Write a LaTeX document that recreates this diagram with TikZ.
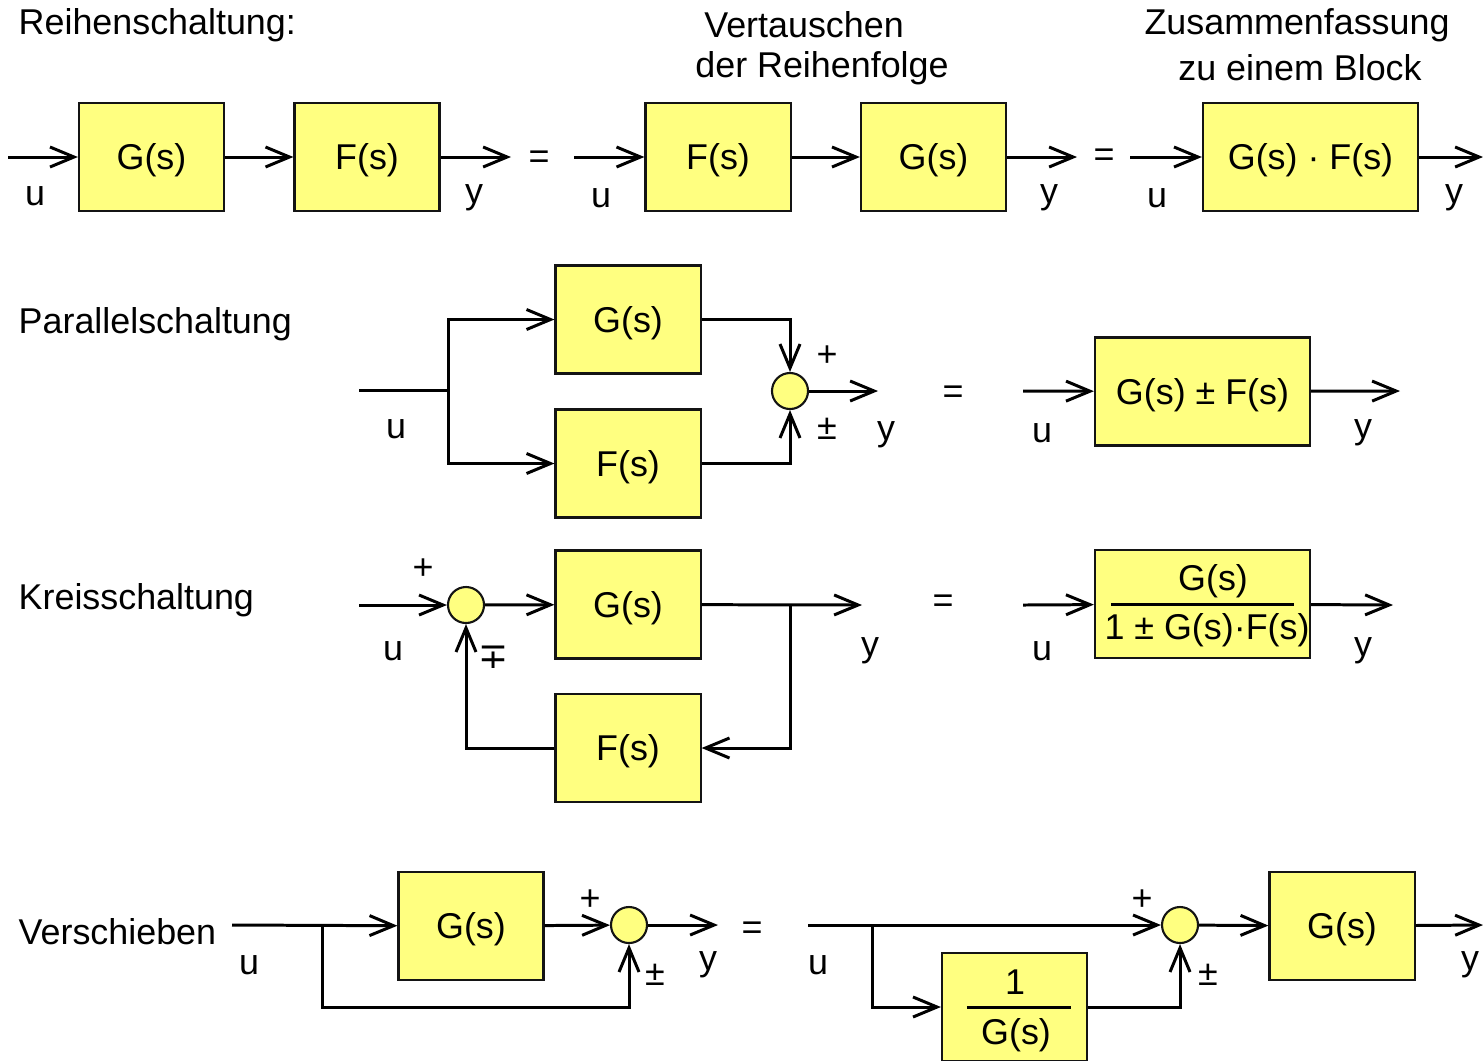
\documentclass[tikz,border=0pt]{standalone}
\usepackage{fontspec}
\setmainfont{Liberation Sans}
\newfontfamily\symfont{DejaVu Sans}
\usetikzlibrary{arrows.meta,positioning,calc}
\definecolor{boxyellow}{RGB}{255,255,128}
\definecolor{edgeink}{RGB}{20,20,20}

\begin{document}
\begin{tikzpicture}[x=0.01cm,y=-0.01cm,font=\fontsize{10.2}{12.2}\selectfont,
 blk/.style={draw=edgeink,line width=0.6pt,fill=boxyellow,minimum width=1.45cm,minimum height=1.08cm,inner sep=0pt,text height=3.3mm,text depth=0.75mm},
 wide/.style={blk,minimum width=2.15cm},
 sumpt/.style={circle,draw=edgeink,line width=0.6pt,fill=boxyellow,minimum size=0.36cm,inner sep=0pt},
 wire/.style={line width=0.85pt},
 arr/.style={wire,-{Straight Barb[length=2.4mm,width=2mm]}},
 lbl/.style={inner sep=0pt,yshift=-0.3mm}]
\useasboundingbox (0,0) rectangle (1483,1060);
% Reihenschaltung
\node[lbl,anchor=west] (t1) at (18,22) {Reihenschaltung:};
\node[lbl] (t2a) at (804,22) {Vertauschen};
\node[lbl] (t2b) at (822,65) {der Reihenfolge};
\node[lbl] (t3a) at (1297,22) {Zusammenfassung};
\node[lbl] (t3b) at (1300,65) {zu einem Block};
\node[blk] (g1) at (151.5,157) {G(s)};
\node[blk] (f1) at (367,157) {F(s)};
\node[blk] (f2) at (718,157) {F(s)};
\node[blk] (g2) at (933.5,157) {G(s)};
\node[wide] (gf) at (1310.5,157) {G(s) · F(s)};
\coordinate (in1) at (8,157);
\coordinate (out1) at (511,157);
\coordinate (in2) at (574,157);
\coordinate (out2) at (1077,157);
\coordinate (in3) at (1130,157);
\coordinate (out3) at (1483,157);
\draw[arr] (in1) -- (g1);
\draw[arr] (g1) -- (f1);
\draw[arr] (f1) -- (out1);
\draw[arr] (in2) -- (f2);
\draw[arr] (f2) -- (g2);
\draw[arr] (g2) -- (out2);
\draw[arr] (in3) -- (gf);
\draw[arr] (gf) -- (out3);
\node[lbl] (u1) at (35,193) {u};
\node[lbl] (y1) at (474,195) {y};
\node[lbl] (e1) at (539,157) {=};
\node[lbl] (u2) at (601,195) {u};
\node[lbl] (y2) at (1049,195) {y};
\node[lbl] (e2) at (1104,155) {=};
\node[lbl] (u3) at (1157,195) {u};
\node[lbl] (y3) at (1454,195) {y};
% Parallelschaltung
\node[lbl,anchor=west] (t4) at (18,321) {Parallelschaltung};
\node[blk] (gp) at (628,319.5) {G(s)};
\node[blk] (fp) at (628,463.5) {F(s)};
\node[sumpt] (sp) at (790,391) {};
\coordinate (inp) at (359,390);
\coordinate (brp) at (448,390);
\coordinate (outp) at (878,391);
\draw[wire] (inp) -- (brp);
\draw[arr] (brp) |- (gp);
\draw[arr] (brp) |- (fp);
\draw[arr] (gp) -| (sp);
\draw[arr] (fp) -| (sp);
\draw[arr] (sp) -- (outp);
\node[lbl] (up) at (396,426) {u};
\node[lbl] (pp) at (827,353) {+};
\node[lbl] (mp) at (827,426) {±};
\node[lbl] (yp) at (886,432) {y};
\node[lbl] (ep) at (953,392) {=};
\node[wide] (gpf) at (1202.5,391.5) {G(s) ± F(s)};
\coordinate (inq) at (1023,391);
\coordinate (outq) at (1400,391);
\draw[arr] (inq) -- (gpf);
\draw[arr] (gpf) -- (outq);
\node[lbl] (uq) at (1042,430) {u};
\node[lbl] (yq) at (1363,430) {y};
% Kreisschaltung
\node[lbl,anchor=west] (t5) at (18,597) {Kreisschaltung};
\node[sumpt] (sk) at (466,605) {};
\node[blk] (gk) at (628,604.5) {G(s)};
\node[blk] (fk) at (628,748) {F(s)};
\coordinate (ink) at (359,605);
\coordinate (brk) at (790,605);
\coordinate (outk) at (862,605);
\draw[arr] (ink) -- (sk);
\draw[arr] (sk) -- (gk);
\draw[arr] (gk) -- (outk);
\draw[arr] (brk) |- (fk);
\draw[arr] (fk) -| (sk);
\node[lbl] (pk) at (423,566) {+};
\node[lbl] (uk) at (393,648) {u};
\node[lbl] (mk) at (494,654) {\symfont ∓};
\node[lbl] (yk) at (870,648) {y};
\node[lbl] (ek) at (943,601) {=};
\node[wide] (gk2) at (1202.5,604) {};
\node[lbl] (num) at (1213,578) {G(s)};
\node[lbl] (den) at (1207,627) {1 ± G(s)·F(s)};
\draw[wire] ($(gk2.west)+(17,0)$) -- ($(gk2.east)+(-17,0)$);
\coordinate (ink2) at (1023,605);
\coordinate (outk2) at (1393,605);
\draw[arr] (ink2) -- (gk2);
\draw[arr] (gk2) -- (outk2);
\node[lbl] (uk2) at (1042,648) {u};
\node[lbl] (yk2) at (1363,648) {y};
% Verschieben
\node[lbl,anchor=west] (t6) at (18,929) {Verschieben};
\node[blk] (gv) at (471,926) {G(s)};
\node[sumpt] (sv) at (629,925) {};
\coordinate (inv) at (232,925);
\coordinate (brv) at (322,925);
\coordinate (lov) at (322,1007);
\coordinate (outv) at (718,925);
\draw[arr] (inv) -- (gv);
\draw[arr] (gv) -- (sv);
\draw[arr] (brv) -- (lov) -| (sv);
\draw[arr] (sv) -- (outv);
\node[lbl] (uv) at (249,962) {u};
\node[lbl] (pv) at (590,897) {+};
\node[lbl] (mv) at (655,972) {±};
\node[lbl] (yv) at (708,962) {y};
\node[lbl] (ev) at (752,928) {=};
\node[sumpt] (sw) at (1180,925) {};
\node[blk] (hw) at (1014.5,1007) {};
\node[lbl] (hnum) at (1015,979) {1};
\node[lbl] (hden) at (1016,1032) {G(s)};
\draw[wire] ($(hw.west)+(26,0)$) -- ($(hw.east)+(-17,0)$);
\node[blk] (gw) at (1342,926) {G(s)};
\coordinate (inw) at (808,925);
\coordinate (brw) at (872,925);
\coordinate (outw) at (1483,925);
\draw[arr] (inw) -- (sw);
\draw[arr] (brw) |- (hw);
\draw[arr] (hw) -| (sw);
\draw[arr] (sw) -- (gw);
\draw[arr] (gw) -- (outw);
\node[lbl] (uw) at (818,962) {u};
\node[lbl] (pw) at (1142,897) {+};
\node[lbl] (mw) at (1208,972) {±};
\node[lbl] (yw) at (1470,962) {y};
\end{tikzpicture}
\end{document}
